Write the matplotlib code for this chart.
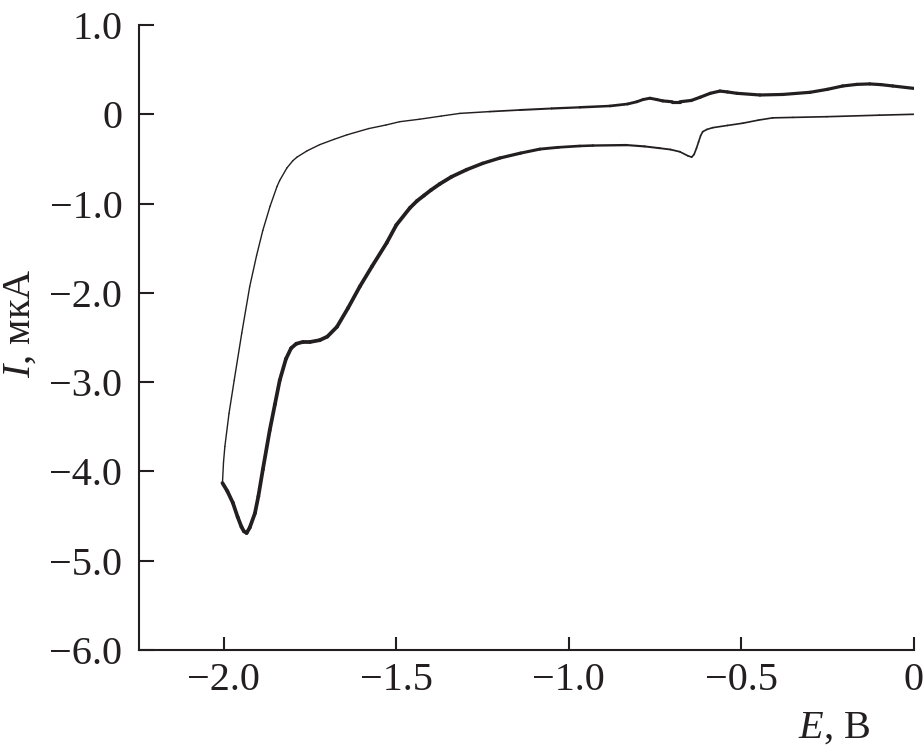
import numpy as np
import matplotlib
matplotlib.use('Agg')
import matplotlib.pyplot as plt
from matplotlib.collections import LineCollection

# cathodic sweep: from 0 V down to the -2.0 V vertex
e_fwd = [0.0, -0.10, -0.252, -0.35, -0.409, -0.45, -0.496, -0.54, -0.583, -0.60,
         -0.612, -0.618, -0.624, -0.630, -0.637, -0.644, -0.655, -0.678, -0.705, -0.736,
         -0.78, -0.832, -0.930, -0.968, -1.03, -1.084, -1.14, -1.2, -1.25, -1.296,
         -1.34, -1.374, -1.40, -1.42, -1.44, -1.461, -1.50, -1.528, -1.57, -1.606,
         -1.64, -1.672, -1.70, -1.722, -1.75, -1.771, -1.79, -1.805, -1.82, -1.838,
         -1.852, -1.867, -1.887, -1.90, -1.91, -1.925, -1.934, -1.942, -1.949, -1.96,
         -1.974, -1.99, -2.004]
i_fwd = [0.0, -0.01, -0.027, -0.035, -0.04, -0.065, -0.10, -0.125, -0.15, -0.17,
         -0.195, -0.24, -0.31, -0.38, -0.45, -0.48, -0.465, -0.42, -0.395, -0.38,
         -0.36, -0.345, -0.35, -0.355, -0.37, -0.39, -0.435, -0.49, -0.55, -0.62,
         -0.70, -0.78, -0.85, -0.91, -0.97, -1.05, -1.24, -1.44, -1.70, -1.93,
         -2.17, -2.38, -2.49, -2.53, -2.55, -2.55, -2.57, -2.62, -2.74, -2.98,
         -3.25, -3.54, -3.98, -4.28, -4.47, -4.63, -4.69, -4.67, -4.62, -4.51,
         -4.35, -4.22, -4.13]

# anodic sweep: from the vertex back to 0 V
e_rev = [-2.004, -2.001, -1.997, -1.985, -1.970, -1.948, -1.925, -1.905, -1.887, -1.866,
         -1.846, -1.838, -1.817, -1.80, -1.788, -1.759, -1.722, -1.68, -1.643, -1.58,
         -1.53, -1.49, -1.432, -1.37, -1.316, -1.23, -1.142, -1.05, -0.968, -0.881,
         -0.830, -0.803, -0.785, -0.765, -0.745, -0.728, -0.70, -0.678, -0.645, -0.620,
         -0.590, -0.562, -0.540, -0.513, -0.446, -0.38, -0.301, -0.25, -0.206, -0.165,
         -0.128, -0.095, -0.061, 0.0]
i_rev = [-4.13, -3.90, -3.72, -3.35, -2.98, -2.45, -1.93, -1.58, -1.30, -1.03,
         -0.81, -0.74, -0.60, -0.52, -0.48, -0.41, -0.34, -0.28, -0.23, -0.16,
         -0.12, -0.083, -0.055, -0.02, 0.01, 0.03, 0.048, 0.065, 0.078, 0.093,
         0.115, 0.14, 0.165, 0.18, 0.165, 0.15, 0.14, 0.14, 0.155, 0.19,
         0.235, 0.26, 0.25, 0.235, 0.216, 0.222, 0.246, 0.28, 0.317, 0.335,
         0.34, 0.332, 0.317, 0.29]

x_ticks = [-2.0, -1.5, -1.0, -0.5, 0.0]
x_labels = ['\u22122.0', '\u22121.5', '\u22121.0', '\u22120.5', '0']
y_ticks = [1.0, 0, -1.0, -2.0, -3.0, -4.0, -5.0, -6.0]
y_labels = ['1.0', '0', '\u22121.0', '\u22122.0', '\u22123.0', '\u22124.0', '\u22125.0', '\u22126.0']

plt.rcParams['font.family'] = ['Liberation Serif', 'DejaVu Serif']
plt.rcParams['mathtext.fontset'] = 'custom'
plt.rcParams['mathtext.it'] = 'Liberation Serif:italic'
plt.rcParams['mathtext.rm'] = 'Liberation Serif'

ink = '#231f20'


def segments(e, i):
    pts = np.column_stack([e, i])
    return np.stack([pts[:-1], pts[1:]], axis=1)


fig = plt.figure(figsize=(9.24, 7.53), dpi=100)
ax = fig.add_axes([0.1504, 0.1368, 0.8386, 0.83])

# trace thickness varies along the scan, as in the scanned figure
seg_f = segments(e_fwd, i_fwd)
mid_f = seg_f[:, :, 0].mean(axis=1)
lw_f = 1.2 + 1.5 * np.clip((-mid_f - 0.65) / 0.7, 0, 1)
ax.add_collection(LineCollection(seg_f, linewidths=lw_f, colors=ink, capstyle='round', joinstyle='round'))

seg_r = segments(e_rev, i_rev)
mid_r = seg_r[:, :, 0].mean(axis=1)
lw_r = 1.0 + 1.3 * np.clip((mid_r + 1.3) / 0.6, 0, 1)
ax.add_collection(LineCollection(seg_r, linewidths=lw_r, colors=ink, capstyle='round', joinstyle='round'))

ax.set_xlim(-2.246, 0.0)
ax.set_ylim(-6.0, 1.0)
ax.set_xticks(x_ticks)
ax.set_xticklabels(x_labels)
ax.set_yticks(y_ticks)
ax.set_yticklabels(y_labels)

for side in ('top', 'right'):
    ax.spines[side].set_visible(False)
for side in ('left', 'bottom'):
    ax.spines[side].set_linewidth(1.5)
    ax.spines[side].set_color(ink)

ax.tick_params(axis='both', direction='in', width=1.5, color=ink,
               labelsize=29, labelcolor=ink)
ax.tick_params(axis='y', length=11, pad=12)
ax.tick_params(axis='x', length=9.5, pad=9)

fig.text(20 / 924, 1 - 323 / 753, '$I$, мкА', rotation=90, ha='center', va='center',
         fontsize=29, color=ink)
fig.text(834 / 924, 1 - 738 / 753, '$E$, В', ha='center', va='baseline',
         fontsize=29, color=ink)

fig.savefig('out.png', dpi=100)
